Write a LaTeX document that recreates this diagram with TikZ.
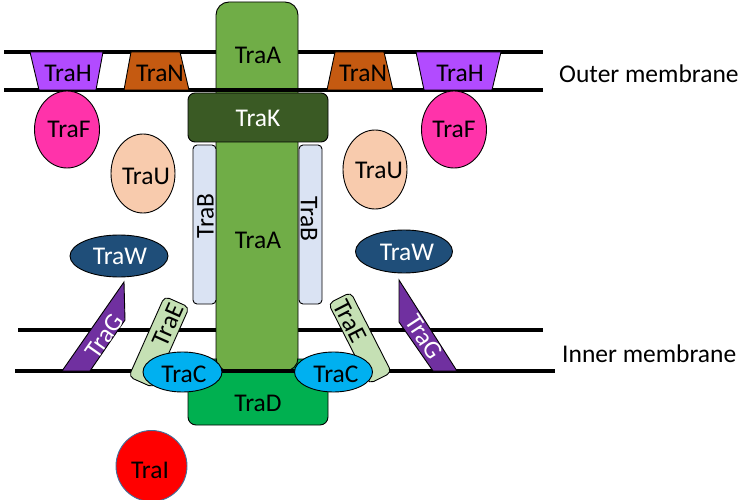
\documentclass[tikz,border=0pt]{standalone}
\usepackage{fontspec}
\setmainfont{Carlito}
\usetikzlibrary{shapes.geometric}
\definecolor{cTraH}{HTML}{B24BFF}
\definecolor{cTraN}{HTML}{C55A11}
\definecolor{cTraA}{HTML}{70AD47}
\definecolor{cTraK}{HTML}{3A5A24}
\definecolor{cTraB}{HTML}{DAE3F3}
\definecolor{cTraF}{HTML}{FF33AA}
\definecolor{cTraU}{HTML}{F8CBAD}
\definecolor{cTraW}{HTML}{1F4E79}
\definecolor{cTraG}{HTML}{7030A0}
\definecolor{cTraE}{HTML}{C5E0B4}
\definecolor{cTraC}{HTML}{00B0F0}
\definecolor{cTraD}{HTML}{00B050}
\definecolor{cTraI}{HTML}{FF0000}
\definecolor{cRim}{HTML}{41719C}
\begin{document}
\begin{tikzpicture}[x=1pt,y=-1pt,
  outline/.style={draw=black,line width=0.9pt},
  membrane/.style={draw=black,line width=3.6pt},
  blob/.style={outline,ellipse,inner sep=0pt},
  slab/.style={outline,rectangle,inner sep=0pt},
  lbl/.style={font=\fontsize{25.5}{28}\selectfont,inner sep=0pt,anchor=base},
  rlbl/.style={font=\fontsize{25.5}{28}\selectfont,inner sep=0pt,anchor=center},
  sidelbl/.style={font=\fontsize{25.5}{28}\selectfont,inner sep=0pt,anchor=base west}]
\useasboundingbox (0,0) rectangle (756,500);

% membrane end points
\coordinate (omTopL) at (4,52);   \coordinate (omTopR) at (543,52);
\coordinate (omBotL) at (4,90);   \coordinate (omBotR) at (543,90);
\coordinate (imTopL) at (18,330); \coordinate (imTopR) at (543,330);
\coordinate (imBotL) at (15,371); \coordinate (imBotR) at (555,371);

% lines that run behind the channel
\draw[membrane] (omTopL) -- (omTopR);
\draw[membrane] (imTopL) -- (imTopR);

% base of the channel
\node[slab,fill=cTraD,rounded corners=8,minimum width=140,minimum height=66] (traD) at (258,392) {};
% central channel
\node[slab,fill=cTraA,rounded corners=13,minimum width=82,minimum height=369] (traA) at (257,186.5) {};

% lines drawn over the channel
\draw[membrane] (omBotL) -- (omBotR);
\draw[membrane] (imBotL) -- (imBotR);

% outer membrane pores
\draw[outline,fill=cTraH] (30,52) -- (103,52) -- (96,90) -- (39,90) -- cycle;
\draw[outline,fill=cTraH] (416,52) -- (501,52) -- (492,90) -- (424,90) -- cycle;
\draw[outline,fill=cTraN] (131,52) -- (180,52) -- (189,90) -- (124,90) -- cycle;
\draw[outline,fill=cTraN] (335,52) -- (384,52) -- (393,90) -- (327,90) -- cycle;

% collar and side rods
\node[slab,fill=cTraK,rounded corners=7,minimum width=140,minimum height=49] (traK) at (258,117.5) {};
\node[slab,fill=cTraB,rounded corners=4,minimum width=23,minimum height=159] (traBl) at (204.5,224.5) {};
\node[slab,fill=cTraB,rounded corners=4,minimum width=23,minimum height=159] (traBr) at (310.5,224.5) {};

% periplasmic proteins
\node[blob,fill=cTraF,minimum width=65,minimum height=77] (traFl) at (67,129.5) {};
\node[blob,fill=cTraF,minimum width=65,minimum height=77] (traFr) at (454,129.5) {};
\node[blob,fill=cTraU,minimum width=64,minimum height=79] (traUl) at (143,173.5) {};
\node[blob,fill=cTraU,minimum width=64,minimum height=79] (traUr) at (375,169.5) {};
\node[blob,fill=cTraW,minimum width=98,minimum height=42] (traWl) at (119,256) {};
\node[blob,fill=cTraW,minimum width=97,minimum height=43] (traWr) at (404,251.5) {};

% inner membrane anchors
\draw[outline,fill=cTraG] (124,282) -- (125,320) -- (90,371) -- (62,371) -- cycle;
\draw[outline,fill=cTraG] (399,280) -- (399,322) -- (433,371) -- (457,371) -- cycle;
\node[slab,fill=cTraE,rounded corners=5,minimum width=88,minimum height=27,rotate=66] (traEl) at (159,342) {};
\node[slab,fill=cTraE,rounded corners=5,minimum width=90,minimum height=25,rotate=-63] (traEr) at (360,338) {};

% cytoplasmic proteins
\node[blob,fill=cTraC,minimum width=79,minimum height=40] (traCl) at (182.5,372) {};
\node[blob,fill=cTraC,minimum width=78,minimum height=40] (traCr) at (333.5,372) {};
\node[circle,draw=cRim,line width=0.9pt,fill=cTraI,minimum size=71,inner sep=0pt] (traI) at (151.5,466) {};

% labels
\node[lbl] (tA1) at (258,64) {TraA};
\node[lbl] (tA2) at (258,249) {TraA};
\node[lbl,white] (tK) at (258,127) {TraK};
\node[lbl] (tD) at (258,411) {TraD};
\node[lbl] (tHl) at (68,82) {TraH};
\node[lbl] (tNl) at (160,82) {TraN};
\node[lbl] (tNr) at (363,82) {TraN};
\node[lbl] (tHr) at (460,82) {TraH};
\node[lbl] (tFl) at (69,138) {TraF};
\node[lbl] (tFr) at (454,138) {TraF};
\node[lbl] (tUl) at (146,185) {TraU};
\node[lbl] (tUr) at (379,179) {TraU};
\node[lbl,white] (tWl) at (120,265) {TraW};
\node[lbl,white] (tWr) at (407,261) {TraW};
\node[lbl] (tCl) at (184,382) {TraC};
\node[lbl] (tCr) at (336,382) {TraC};
\node[lbl] (tI) at (150,478) {TraI};
\node[rlbl,rotate=90] (tBl) at (205.5,216) {TraB};
\node[rlbl,rotate=-90] (tBr) at (309,219) {TraB};
\node[rlbl,rotate=66] (tEl) at (168,325) {TraE};
\node[rlbl,rotate=-63] (tEr) at (350,321) {TraE};
\node[rlbl,white,rotate=55] (tGl) at (104,336) {TraG};
\node[rlbl,white,rotate=-57] (tGr) at (424,337) {TraG};
\node[sidelbl] (tOuter) at (559,83) {Outer membrane};
\node[sidelbl] (tInner) at (562,362) {Inner membrane};
\end{tikzpicture}
\end{document}
